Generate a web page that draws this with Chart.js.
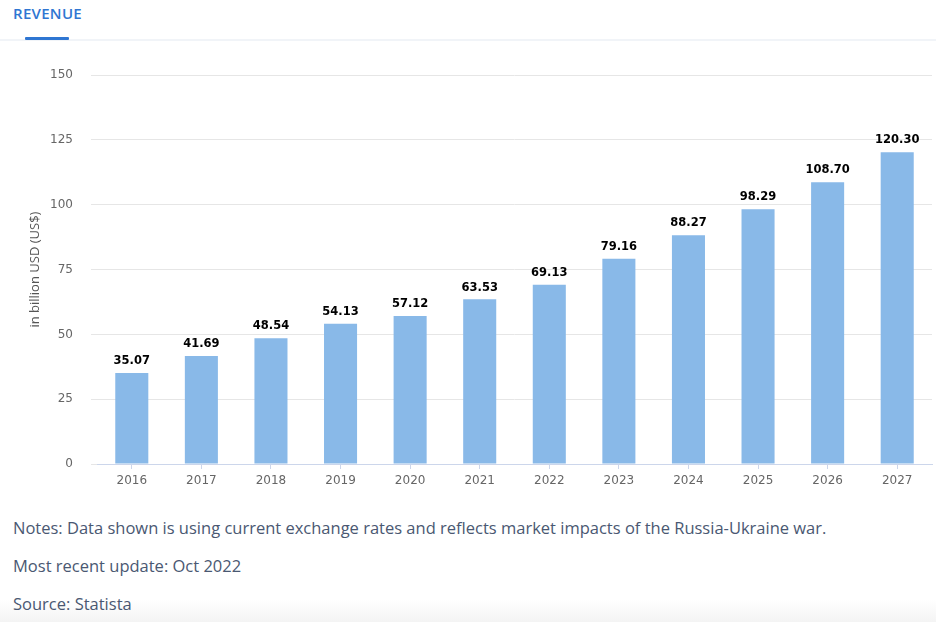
<!DOCTYPE html>
<html>
<head>
<meta charset="utf-8">
<script src="https://cdn.jsdelivr.net/npm/chart.js@4"></script>
<style>
  html, body { margin: 0; padding: 0; background: #fff; }
  body { width: 936px; height: 622px; position: relative; overflow: hidden; font-family: "Open Sans", sans-serif; }
  #tab { position: absolute; left: 13px; top: 3px; font-size: 15px; font-weight: 600; color: #2f76d2; letter-spacing: 0.3px; }
  #tabline { position: absolute; left: 25px; top: 37px; width: 44px; height: 3px; background: #2f76d2; border-radius: 1px; }
  #sep { position: absolute; left: 0; top: 39px; width: 936px; height: 2px; background: #f1f4f8; }
  #wrap { position: absolute; left: 0; top: 50px; width: 936px; height: 450px; }
  .note { position: absolute; left: 13px; font-size: 16.5px; color: #4a5872; white-space: nowrap; }
  #fade { position: absolute; left: 0; top: 600px; width: 936px; height: 22px; background: linear-gradient(#ffffff, #f4f4f4); }
</style>
</head>
<body>
<div id="tab">REVENUE</div>
<div id="sep"></div>
<div id="tabline"></div>
<div id="wrap"><canvas id="chart"></canvas></div>
<div id="fade"></div>
<div class="note" style="top:516px">Notes: Data shown is using current exchange rates and reflects market impacts of the Russia-Ukraine war.</div>
<div class="note" style="top:554px">Most recent update: Oct 2022</div>
<div class="note" style="top:592px">Source: Statista</div>
<script>
const years = ["2016", "2017", "2018", "2019", "2020", "2021", "2022", "2023", "2024", "2025", "2026", "2027"];
const revenue = [35.07, 41.69, 48.54, 54.13, 57.12, 63.53, 69.13, 79.16, 88.27, 98.29, 108.70, 120.30];
const yTicks = [0, 25, 50, 75, 100, 125, 150];

// draw the value above each bar
const barLabels = {
  id: "barLabels",
  afterDatasetsDraw(chart) {
    const ctx = chart.ctx;
    const meta = chart.getDatasetMeta(0);
    ctx.save();
    ctx.font = "bold 11.5px 'DejaVu Sans'";
    ctx.fillStyle = "#000";
    ctx.textAlign = "center";
    ctx.textBaseline = "bottom";
    meta.data.forEach((bar, i) => {
      ctx.fillText(revenue[i].toFixed(2), bar.x, bar.y - 6);
    });
    ctx.restore();
  }
};

const ctx = document.getElementById("chart").getContext("2d");
new Chart(ctx, {
  type: "bar",
  data: {
    labels: years,
    datasets: [{
      data: revenue,
      backgroundColor: "#89b9e8",
      borderWidth: 0,
      categoryPercentage: 1,
      barPercentage: 0.475
    }]
  },
  options: {
    responsive: true,
    maintainAspectRatio: false,
    animation: false,
    layout: { padding: { top: 23, right: 4, left: 0, bottom: 0 } },
    plugins: {
      legend: { display: false },
      tooltip: { enabled: false }
    },
    scales: {
      x: {
        offset: true,
        grid: { display: true, drawOnChartArea: false, drawTicks: true, tickLength: 5, color: "#ccd6eb", offset: false },
        border: { display: true, color: "#ccd6eb", width: 1 },
        ticks: { color: "#666", font: { family: "DejaVu Sans", size: 12 }, padding: 5, maxRotation: 0 },
        afterFit(scale) { scale.height = 36; }
      },
      y: {
        min: 0,
        max: 150,
        afterBuildTicks(scale) { scale.ticks = yTicks.map(v => ({ value: v })); },
        grid: { color: "#e6e6e6", drawTicks: true, tickLength: 6 },
        border: { display: false },
        ticks: { color: "#666", font: { family: "DejaVu Sans", size: 12 }, padding: 18 },
        title: {
          display: true,
          text: "in billion USD (US$)",
          color: "#555",
          font: { family: "Open Sans", size: 13 },
          padding: { top: 27, bottom: 0 }
        },
        afterFit(scale) { scale.width = 97; }
      }
    }
  },
  plugins: [barLabels]
});
</script>
</body>
</html>
